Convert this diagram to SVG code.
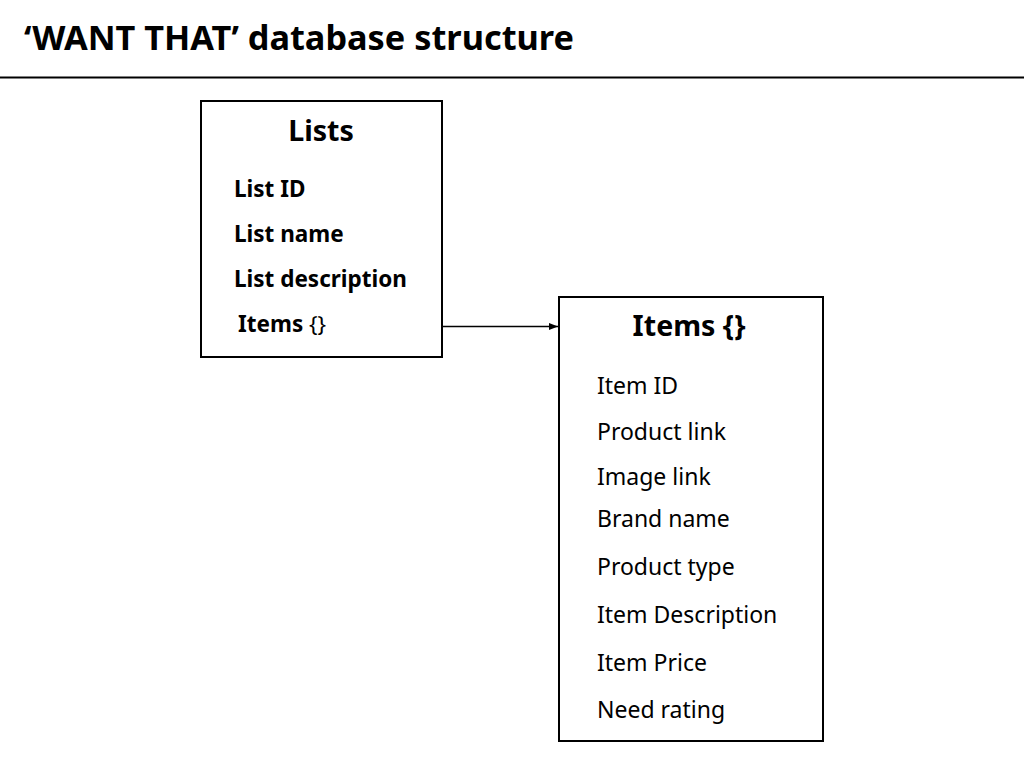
<svg xmlns="http://www.w3.org/2000/svg" width="1024" height="768" viewBox="0 0 1024 768">
<defs>
<style>
text{font-family:"Noto Sans","Open Sans","Liberation Sans",sans-serif;fill:#000}
.title{font-size:34.3px;font-weight:bold}
.head{font-size:28.6px;font-weight:bold}
.bf{font-size:22.5px;font-weight:bold}
.nf{font-size:23px}
.box{fill:#fff;stroke:#000;stroke-width:2}
</style>
<marker id="arr" viewBox="0 0 10 10" refX="10" refY="5" markerWidth="9" markerHeight="9" markerUnits="userSpaceOnUse" orient="auto">
<path d="M0,1 L10,5 L0,9 z" fill="#000"/>
</marker>
</defs>
<rect width="1024" height="768" fill="#fff"/>
<text class="title" x="24" y="50">‘WANT THAT’ database structure</text>
<line x1="0" y1="77.5" x2="1024" y2="77.5" stroke="#000" stroke-width="2"/>
<g id="connectors">
<line x1="442" y1="326.5" x2="558" y2="326.5" stroke="#000" stroke-width="1.6" marker-end="url(#arr)"/>
</g>
<g id="lists">
<rect class="box" x="201" y="101" width="241" height="256"/>
<text class="head" x="321" y="141" text-anchor="middle">Lists</text>
<text class="bf" x="234" y="197">List ID</text>
<text class="bf" x="234" y="242">List name</text>
<text class="bf" x="234" y="287">List description</text>
<text class="bf" x="238" y="332">Items <tspan font-weight="normal">{}</tspan></text>
</g>
<g id="items">
<rect class="box" x="559" y="297" width="264" height="444"/>
<text class="head" x="689" y="336" text-anchor="middle">Items {}</text>
<text class="nf" x="597" y="394">Item ID</text>
<text class="nf" x="597" y="440">Product link</text>
<text class="nf" x="597" y="485">Image link</text>
<text class="nf" x="597" y="527">Brand name</text>
<text class="nf" x="597" y="575">Product type</text>
<text class="nf" x="597" y="623">Item Description</text>
<text class="nf" x="597" y="671">Item Price</text>
<text class="nf" x="597" y="718">Need rating</text>
</g>
</svg>
